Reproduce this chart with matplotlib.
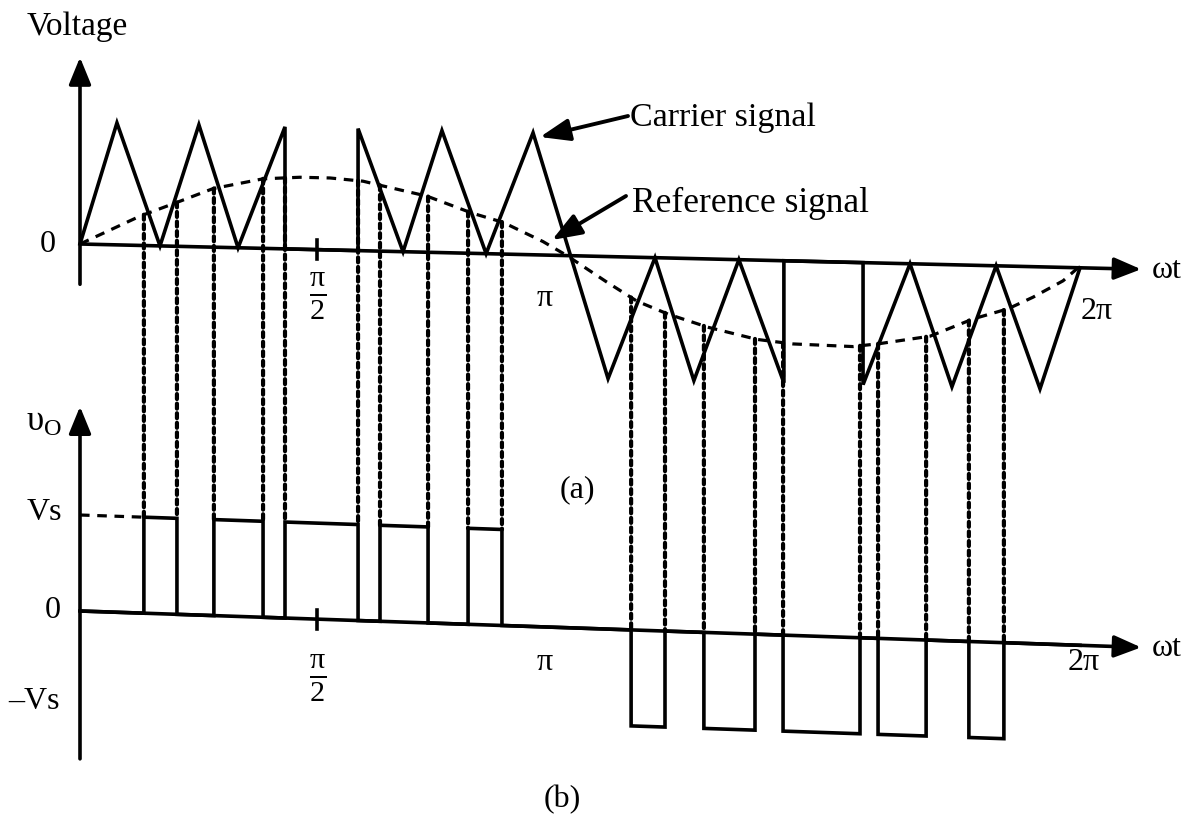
import numpy as np
import matplotlib
matplotlib.use("Agg")
import matplotlib.pyplot as plt
import matplotlib.transforms as mtransforms
from matplotlib.patches import ConnectionPatch

plt.rcParams['font.family'] = ['Liberation Serif', 'DejaVu Serif']
plt.rcParams['mathtext.fontset'] = 'custom'
plt.rcParams['mathtext.rm'] = 'Liberation Serif'
plt.rcParams['mathtext.it'] = 'Liberation Serif:italic'

# omega*t in degrees, values normalised to the carrier peak
carrier_t = [0, 13.3, 28.8, 42.8, 56.9, 73.8, 73.8, 100.1, 100.1, 116.3, 130.3,
             146.2, 163.1, 190.1, 207.0, 221.0, 237.2, 253.4, 253.4, 281.9,
             281.9, 298.8, 313.9, 329.8, 345.6, 360]
carrier_v = [0, 1, 0, 1, 0, 1, 0, 0, 1, 0, 1,
             0, 1, -1, 0, -1, 0, -1, 0, 0,
             -1, 0, -1, 0, -1, 0]

ref_t = [0, 21.6, 34.9, 47.9, 65.9, 79.2, 90.0, 101.9, 108.0, 124.9, 141.1,
         152.3, 166.7, 175.3, 189.7, 200.5, 211.7, 226.1, 243.7, 256.7, 278.3,
         288.0, 306.0, 321.5, 334.1, 343.1, 353.9, 359.3]
ref_v = [0, 0.24, 0.36, 0.48, 0.57, 0.59, 0.59, 0.57, 0.54, 0.46, 0.33,
         0.26, 0.11, 0.0, -0.21, -0.36, -0.46, -0.56, -0.65, -0.68, -0.69,
         -0.66, -0.59, -0.44, -0.35, -0.25, -0.11, 0.0]

# switching instants of the output pulses (degrees)
pos_edges = [23.0, 34.9, 48.2, 65.9, 73.8, 100.1, 108.0, 125.3, 139.7, 151.9]
neg_edges = [198.4, 210.6, 224.6, 243.0, 253.1, 280.8, 287.3, 304.6, 320.0, 332.6]

W, H = 1202, 820


def px(x, y):
    return x / W, 1 - y / H


fig = plt.figure(figsize=(12.02, 8.2), dpi=100)
fig.patch.set_facecolor('white')

deg_per_px = 360 / 1000.0
xlim = (-80 * deg_per_px, (W - 80) * deg_per_px)

ax_a = fig.add_axes([0, 0, 1, 1])
ax_b = fig.add_axes([0, 0, 1, 1])
for ax in (ax_a, ax_b):
    ax.set_xlim(*xlim)
    ax.axis('off')
    ax.patch.set_alpha(0)

sa = 122.0   # pixels per unit, panel (a)
sb = 96.0    # pixels per unit, panel (b)
ax_a.set_ylim(-(H - 245) / sa, 245 / sa)
ax_b.set_ylim(-(H - 612) / sb, 612 / sb)

# the scan is slightly sheared: baselines drop to the right
k_a = 0.0238 / deg_per_px / sa
k_b = 0.0343 / deg_per_px / sb
tr_a = mtransforms.Affine2D(np.array([[1, 0, 0], [-k_a, 1, 0], [0, 0, 1]])) + ax_a.transData
tr_b = mtransforms.Affine2D(np.array([[1, 0, 0], [-k_b, 1, 0], [0, 0, 1]])) + ax_b.transData

LW = 2.6
arrow = dict(arrowstyle='-|>,head_length=1.1,head_width=0.45', lw=LW, color='k',
             mutation_scale=15, shrinkA=0, shrinkB=0)

# ---- panel (a)
ax_a.annotate('', xy=(382, 0), xytext=(0, 0), xycoords=tr_a, textcoords=tr_a, arrowprops=arrow)
ax_a.annotate('', xy=(0, 1.53), xytext=(0, -0.33), xycoords=tr_a, textcoords=tr_a, arrowprops=arrow)
ax_a.plot(carrier_t, carrier_v, color='k', lw=LW, transform=tr_a, solid_joinstyle='miter')
ax_a.plot(ref_t, ref_v, color='k', lw=2.3, ls=(0, (3.0, 2.4)), transform=tr_a)
ax_a.plot([85.3, 85.3], [0.08, -0.08], color='k', lw=LW, transform=tr_a)

# ---- panel (b)
out_t = [0]
out_v = [0]
for a, b in zip(pos_edges[::2], pos_edges[1::2]):
    out_t += [a, a, b, b]
    out_v += [0, 1, 1, 0]
for a, b in zip(neg_edges[::2], neg_edges[1::2]):
    out_t += [a, a, b, b]
    out_v += [0, -1, -1, 0]
out_t.append(360)
out_v.append(0)

ax_b.annotate('', xy=(382, 0), xytext=(0, 0), xycoords=tr_b, textcoords=tr_b, arrowprops=arrow)
ax_b.annotate('', xy=(0, 2.13), xytext=(0, -1.54), xycoords=tr_b, textcoords=tr_b, arrowprops=arrow)
ax_b.plot(out_t, out_v, color='k', lw=LW, transform=tr_b, solid_joinstyle='miter')
ax_b.plot([0, pos_edges[0]], [1, 1], color='k', lw=2.3, ls=(0, (3.0, 2.4)), transform=tr_b)
ax_b.plot([85.3, 85.3], [0.1, -0.1], color='k', lw=LW, transform=tr_b)

# dotted projections from the crossings in (a) down to the pulses in (b)
for e in pos_edges + neg_edges:
    level = 1 if e < 180 else 0
    con = ConnectionPatch(xyA=(e, np.interp(e, ref_t, ref_v)), coordsA=tr_a,
                          xyB=(e, level), coordsB=tr_b,
                          color='k', lw=3.0, ls=(0, (1.2, 1.1)))
    fig.add_artist(con)

# ---- text
fs = 23
fig.text(*px(27, 35), 'Voltage', fontsize=24, ha='left', va='baseline')
fig.text(*px(48, 244), '0', fontsize=fs, ha='center', va='center')
fig.text(*px(1152, 270), 'ωt', fontsize=fs, ha='left', va='center')
fig.text(*px(1097, 312), '2π', fontsize=fs, ha='center', va='center')
fig.text(*px(545, 298), 'π', fontsize=fs, ha='center', va='center')
fig.text(*px(318, 296), r'$\frac{\mathrm{π}}{\mathrm{2}}$', fontsize=31, ha='center', va='center')
fig.text(*px(630, 126), 'Carrier signal', fontsize=24.5, ha='left', va='baseline')
fig.text(*px(632, 212), 'Reference signal', fontsize=25.5, ha='left', va='baseline')

fig.text(*px(44, 422), r'$\mathrm{υ_O}$', fontsize=25, ha='center', va='center')
fig.text(*px(44, 513), 'Vs', fontsize=fs, ha='center', va='center')
fig.text(*px(53, 611), '0', fontsize=fs, ha='center', va='center')
fig.text(*px(34, 702), '–Vs', fontsize=fs, ha='center', va='center')
fig.text(*px(577, 490), '(a)', fontsize=fs, ha='center', va='center')
fig.text(*px(562, 800), '(b)', fontsize=fs, ha='center', va='center')
fig.text(*px(318, 678), r'$\frac{\mathrm{π}}{\mathrm{2}}$', fontsize=31, ha='center', va='center')
fig.text(*px(545, 662), 'π', fontsize=fs, ha='center', va='center')
fig.text(*px(1084, 662), '2π', fontsize=fs, ha='center', va='center')
fig.text(*px(1152, 648), 'ωt', fontsize=fs, ha='left', va='center')

lab_arrow = dict(arrowstyle='-|>,head_length=1.2,head_width=0.45', lw=2.8, color='k',
                 mutation_scale=15, shrinkA=0, shrinkB=0)
fig.add_artist(plt.Annotation('', xy=px(540, 138), xytext=px(628, 117),
                              xycoords='figure fraction', textcoords='figure fraction',
                              arrowprops=lab_arrow))
fig.add_artist(plt.Annotation('', xy=px(552, 241), xytext=px(626, 197),
                              xycoords='figure fraction', textcoords='figure fraction',
                              arrowprops=lab_arrow))

fig.savefig('out.png', dpi=100, facecolor='white')
